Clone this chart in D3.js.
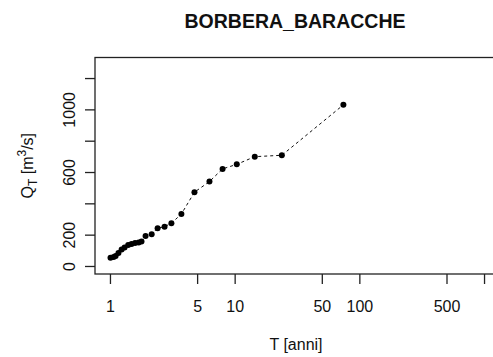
<!DOCTYPE html>
<html>
<head>
<meta charset="utf-8">
<script src="https://cdn.jsdelivr.net/npm/d3@7"></script>
<style>
  html, body { margin: 0; padding: 0; background: #fff; }
  svg { display: block; }
  text { font-family: "Liberation Sans", Arial, sans-serif; fill: #111; }
</style>
</head>
<body>
<svg id="chart" width="493" height="357"></svg>
<script>
// ---- data ----
const title = "BORBERA_BARACCHE";
const returnPeriods = [1.01, 1.07, 1.11, 1.17, 1.24, 1.31, 1.40, 1.49, 1.59, 1.70, 1.79, 1.93,
                       2.16, 2.41, 2.74, 3.11, 3.74, 4.76, 6.28, 8.0, 10.4, 14.5, 23.9, 74.5];
const discharges =    [53, 57, 64, 83, 105, 118, 134, 141, 147, 150, 157, 192,
                       203, 241, 251, 273, 332, 471, 539, 620, 649, 698, 707, 1029];
const xTicks = [1, 5, 10, 50, 100, 500, 1000];
const xTickLabels = ["1", "5", "10", "50", "100", "500", ""];
const yTicks = [0, 200, 400, 600, 800, 1000, 1200];
const yTickLabels = ["0", "200", "", "600", "", "1000", ""];
const xLabel = "T [anni]";

// ---- layout ----
const svg = d3.select("#chart");
const pLeft = 95, pRight = 499, pTop = 57.5, pBottom = 274;

const xLim = [1, 1000];
const lx0 = Math.log10(xLim[0]), lx1 = Math.log10(xLim[1]);
const ext = (lx1 - lx0) * 0.04;
const x = d3.scaleLog()
  .domain([Math.pow(10, lx0 - ext), Math.pow(10, lx1 + ext)])
  .range([pLeft, pRight]);

const yLim = [0, 1280];
const yExt = (yLim[1] - yLim[0]) * 0.04;
const y = d3.scaleLinear()
  .domain([yLim[0] - yExt, yLim[1] + yExt])
  .range([pBottom, pTop]);

// box
svg.append("rect")
  .attr("x", pLeft).attr("y", pTop)
  .attr("width", pRight - pLeft).attr("height", pBottom - pTop)
  .attr("fill", "none").attr("stroke", "#222").attr("stroke-width", 1.3);

// x axis
const xAxis = d3.axisBottom(x)
  .tickValues(xTicks)
  .tickSize(10)
  .tickPadding(17)
  .tickFormat((d, i) => xTickLabels[i]);
const gx = svg.append("g").attr("transform", `translate(0,${pBottom})`).call(xAxis);
gx.select(".domain").remove();
gx.selectAll(".tick line").attr("stroke", "#222").attr("stroke-width", 1.3);
gx.selectAll(".tick text").style("font-size", "16px").attr("fill", "#111");

// y axis
const yAxis = d3.axisLeft(y)
  .tickValues(yTicks)
  .tickSize(10)
  .tickFormat((d, i) => yTickLabels[i]);
const gy = svg.append("g").attr("transform", `translate(${pLeft},0)`).call(yAxis);
gy.select(".domain").remove();
gy.selectAll(".tick line").attr("stroke", "#222").attr("stroke-width", 1.3);
gy.selectAll(".tick text")
  .style("font-size", "16px")
  .attr("fill", "#111")
  .attr("text-anchor", "middle")
  .attr("x", 0).attr("dy", 0)
  .attr("transform", "translate(-20,0) rotate(-90)");

// title
svg.append("text")
  .attr("x", (pLeft + pRight) / 2 - 2).attr("y", 27.5)
  .attr("text-anchor", "middle")
  .style("font-size", "19.5px").style("font-weight", "bold")
  .text(title);

// x label
svg.append("text")
  .attr("x", 296).attr("y", 350)
  .attr("text-anchor", "middle")
  .style("font-size", "16px")
  .text(xLabel);

// y label Q_T [m^3/s]
const yl = svg.append("text")
  .attr("transform", `translate(33,${(pTop + pBottom) / 2}) rotate(-90)`)
  .attr("text-anchor", "middle")
  .style("font-size", "16px");
yl.append("tspan").text("Q");
yl.append("tspan").attr("dy", 4).style("font-size", "12px").text("T");
yl.append("tspan").attr("dy", -4).text(" [m");
yl.append("tspan").attr("dy", -7).style("font-size", "12px").text("3");
yl.append("tspan").attr("dy", 7).text("/s]");

// data
const pts = returnPeriods.map((t, i) => ({ t, q: discharges[i] }));
const line = d3.line().x(d => x(d.t)).y(d => y(d.q));
svg.append("path")
  .datum(pts)
  .attr("d", line)
  .attr("fill", "none")
  .attr("stroke", "#111")
  .attr("stroke-width", 1)
  .attr("stroke-dasharray", "3,3");

svg.selectAll("circle.pt")
  .data(pts)
  .enter().append("circle")
  .attr("class", "pt")
  .attr("cx", d => x(d.t))
  .attr("cy", d => y(d.q))
  .attr("r", 3)
  .attr("fill", "#000");
</script>
</body>
</html>
